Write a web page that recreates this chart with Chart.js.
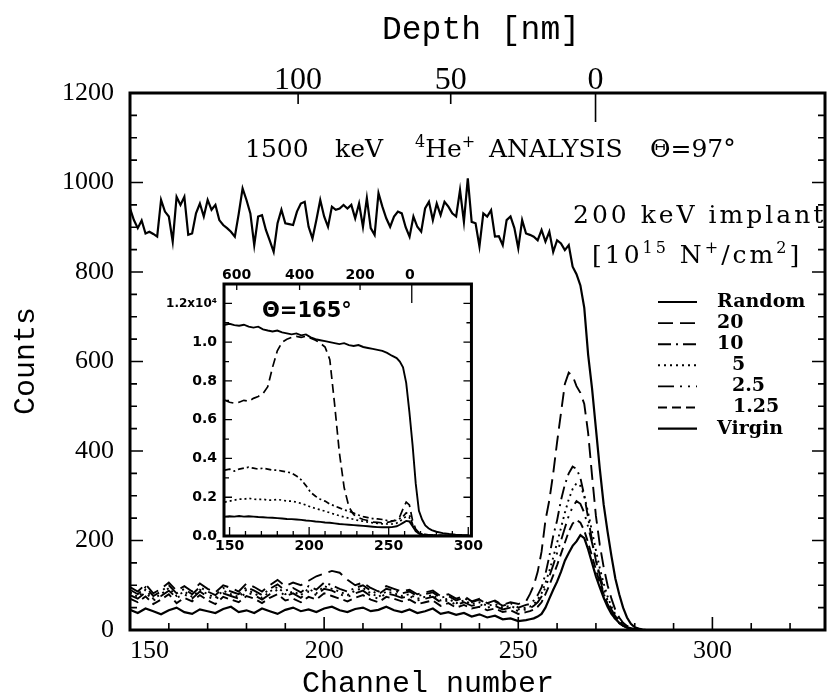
<!DOCTYPE html>
<html><head><meta charset="utf-8">
<script src="https://cdn.jsdelivr.net/npm/chart.js@4.4.0/dist/chart.umd.min.js"></script>
<style>
html,body{margin:0;padding:0;background:#fff;}
#wrap{position:relative;width:831px;height:700px;overflow:hidden;background:#fff;}
#main{position:absolute;left:0;top:0;}
#inset{position:absolute;left:140px;top:255px;}
</style></head><body>
<div id="wrap"><canvas id="main" width="831" height="700"></canvas><canvas id="inset" width="345" height="310"></canvas></div>
<script>
// ---------------- DATA (main panel, Θ=97°) ----------------
const seriesNames = ['Random', '20', '10', '5', '2.5', '1.25', 'Virgin'];

// Random spectrum: one value per channel starting at channel 150
const randomStartChannel = 150;
const randomCounts = [
  942,916,898,915,886,890,885,879,961,935,924,868,968,950,968,883,886,931,953,924,
  961,939,950,916,905,898,890,879,930,987,961,931,860,924,927,894,870,845,909,939,
  909,907,905,935,953,957,901,875,916,961,924,901,946,939,942,950,942,950,920,953,
  901,965,898,883,976,946,920,901,924,935,931,900,879,924,901,890,942,957,916,953,
  927,957,946,931,924,983,912,1009,912,909,857,931,924,938,879,880,860,916,924,898,
  853,916,886,883,879,871,894,868,890,845,871,864,849,860,812,795,770,720,615,540,
  450,360,280,220,165,115,80,50,28,14,6,3,1,0,0,0,0,0,0,0,0
];

// Aligned spectra share this channel list
const lowChannels = [
  150,152,154,156,158,160,162,164,166,168,170,172,174,176,178,180,182,184,186,188,
  190,192,194,196,198,200,202,204,206,208,210,212,214,216,218,220,222,224,226,228,
  230,232,234,236,238,240,242,244,246,248,250,252,
  253,254,255,256,257,258,259,260,261,262,263,264,265,266,267,268,269,270,271,272,
  273,274,275,276,277,278,279,280,281,282,283,284
];
const counts20 = [
  96,86,102,82,92,106,88,98,86,104,92,84,100,94,86,104,96,86,100,112,
  98,106,100,110,120,126,132,128,112,100,106,94,86,98,92,86,90,80,84,88,
  76,80,70,76,64,70,60,66,56,62,58,64,
  80,100,130,175,245,290,350,420,485,550,575,568,545,530,505,440,345,255,190,140,
  100,70,45,28,16,9,5,2,1,0,0,0
];
const counts10 = [
  90,80,96,76,86,100,82,92,80,96,86,78,94,86,80,96,88,78,92,102,
  88,94,84,98,90,106,100,92,86,94,100,88,80,92,88,82,86,76,80,84,
  72,76,66,72,62,68,58,64,54,60,50,56,
  58,66,78,95,125,165,210,245,290,325,350,365,360,340,300,250,200,155,115,82,
  56,38,24,15,9,5,3,1,0,0,0,0
];
const counts5 = [
  84,74,90,70,80,94,76,86,74,90,80,72,88,80,74,90,82,72,86,96,
  80,86,78,92,82,98,92,86,78,88,94,82,74,86,82,76,80,70,74,78,
  66,70,60,66,58,62,54,58,50,54,46,50,
  52,58,68,82,105,132,162,195,228,262,292,315,328,322,300,262,220,178,138,104,
  75,52,35,22,13,8,4,2,1,0,0,0
];
const counts2p5 = [
  78,70,84,66,76,88,72,80,70,86,74,68,82,76,70,84,78,68,80,90,
  76,82,72,86,78,92,88,80,74,82,88,76,70,82,78,72,76,66,70,74,
  62,66,56,62,54,58,50,54,46,50,42,46,
  48,54,62,75,95,120,145,172,200,228,255,275,288,282,262,230,195,158,122,92,
  66,46,31,20,12,7,4,2,1,0,0,0
];
const counts1p25 = [
  70,62,75,58,68,80,60,72,64,78,66,58,74,68,62,76,70,60,72,80,
  66,70,62,74,68,82,76,70,64,72,78,68,62,74,70,64,68,58,62,66,
  54,60,50,56,48,52,44,48,40,44,36,40,
  42,46,52,62,80,100,122,145,170,195,220,238,246,240,222,195,165,135,105,80,
  58,40,27,17,10,6,3,1,0,0,0,0
];
const countsVirgin = [
  45,38,48,42,35,44,50,40,36,46,42,38,47,52,40,44,38,48,42,36,
  45,50,42,46,40,48,52,44,40,47,50,42,45,52,44,40,46,38,42,48,
  36,40,34,38,30,35,28,32,24,26,20,22,
  24,26,30,36,50,70,90,108,130,155,172,188,198,212,205,180,150,120,95,72,
  52,36,25,16,10,6,3,1,0,0,0,0
];

// Main axis ticks
const xTickLabels = [150, 200, 250, 300];
const yTickLabels = [0, 200, 400, 600, 800, 1000, 1200];
const xMinorTicks = [160,170,180,190,200,210,220,230,240,250,260,270,280,290,300,310,320];
const yMinorTicks = [50,100,150,200,250,300,350,400,450,500,550,600,650,700,750,800,850,900,950,1000,1050,1100,1150];
const depthLabels = [100, 50, 0];          // nm
const depthChannels = [193.3, 232.6, 269.9]; // channel at which each depth falls

// ---------------- DATA (inset, Θ=165°, units of 10^4 counts) ----------------
const insetChannels = [
  147,150,153,156,159,162,165,168,171,174,177,180,183,186,189,192,195,198,201,204,
  207,210,213,216,219,222,225,228,231,234,237,240,243,246,249,252,255,
  257,259,261,263,265,267,269,271,273,275,277,280,284,288,292,296,300
];
const insetRandom = [
  1.090,1.095,1.088,1.085,1.090,1.080,1.075,1.080,1.066,1.060,
  1.055,1.060,1.050,1.045,1.040,1.045,1.035,1.040,1.025,1.015,
  1.010,1.005,1.000,0.995,0.990,0.995,0.985,0.980,0.985,0.975,
  0.970,0.965,0.960,0.955,0.945,0.930,0.918,
  0.900,0.870,0.790,0.640,0.470,0.270,0.130,0.085,0.055,0.040,
  0.030,0.022,0.015,0.010,0.007,0.005,0.004
];
const inset20 = [
  0.70,0.69,0.685,0.69,0.70,0.695,0.71,0.72,0.735,0.77,
  0.87,0.955,1.00,1.015,1.025,1.03,1.025,1.03,1.02,1.01,
  0.995,0.975,0.91,0.68,0.43,0.25,0.15,0.11,0.095,0.085,
  0.08,0.072,0.07,0.068,0.07,0.075,0.085,
  0.10,0.14,0.175,0.16,0.08,0.035,0.018,0.01,0.008,0.006,
  0.005,0.004,0.003,0.002,0.002,0.001,0.001
];
const inset10 = [
  0.34,0.345,0.335,0.345,0.35,0.355,0.35,0.345,0.35,0.345,
  0.34,0.34,0.335,0.33,0.325,0.31,0.29,0.26,0.225,0.205,
  0.19,0.18,0.165,0.155,0.145,0.135,0.128,0.118,0.108,0.10,
  0.095,0.09,0.088,0.085,0.08,0.078,0.08,
  0.09,0.10,0.12,0.11,0.06,0.03,0.015,0.01,0.007,0.005,
  0.004,0.003,0.002,0.002,0.001,0.001,0.001
];
const inset5 = [
  0.175,0.18,0.185,0.19,0.19,0.195,0.19,0.188,0.19,0.185,
  0.185,0.188,0.185,0.18,0.18,0.175,0.168,0.16,0.15,0.142,
  0.135,0.128,0.12,0.112,0.105,0.098,0.092,0.086,0.08,0.076,
  0.072,0.068,0.065,0.063,0.062,0.062,0.066,
  0.075,0.09,0.10,0.095,0.055,0.025,0.012,0.008,0.006,0.005,
  0.004,0.003,0.002,0.002,0.001,0.001,0.001
];
const insetVirgin = [
  0.10,0.102,0.10,0.103,0.10,0.102,0.10,0.098,0.097,0.095,
  0.094,0.092,0.09,0.088,0.087,0.085,0.083,0.08,0.078,0.075,
  0.073,0.07,0.068,0.065,0.062,0.06,0.058,0.056,0.054,0.052,
  0.05,0.048,0.046,0.045,0.045,0.046,0.05,
  0.058,0.068,0.078,0.075,0.05,0.025,0.012,0.007,0.005,0.004,
  0.003,0.002,0.002,0.001,0.001,0.001,0.001
];
const insetXTickLabels = [150, 200, 250, 300];
const insetYTickLabels = [0, 0.2, 0.4, 0.6, 0.8, 1.0, 1.2];
const insetXMinor = [150,160,170,180,190,200,210,220,230,240,250,260,270,280,290,300];
const insetYMinor = [0.1,0.2,0.3,0.4,0.5,0.6,0.7,0.8,0.9,1.0,1.1,1.2];
const insetDepthLabels = [600, 400, 200, 0];
const insetDepthChannels = [154.5, 194, 232, 264.5];

// ---------------- STYLES ----------------
const mainDash = [[], [15,7], [13,5,2,5], [2,4], [16,6,2,6,2,6], [9,5], []];
const mainWidth = [2.2, 1.9, 1.9, 1.9, 1.9, 1.9, 2.2];
const legendIndent = [0, 0, 0, 15, 15, 16, 0];

function pts(xs, ys) { return ys.map((v, i) => ({ x: xs[i], y: v })); }
const randomPts = randomCounts.map((v, i) => ({ x: randomStartChannel + i, y: v }));
const mainSeries = [randomPts, pts(lowChannels, counts20), pts(lowChannels, counts10),
  pts(lowChannels, counts5), pts(lowChannels, counts2p5), pts(lowChannels, counts1p25),
  pts(lowChannels, countsVirgin)];

function drawRuns(ctx, runs, x, y, size, family, weight, spacing) {
  let cx = x;
  runs.forEach(r => {
    const s = r.sup ? Math.round(size * 0.62) : size;
    ctx.font = (weight || 'normal') + ' ' + s + 'px ' + family;
    if ('letterSpacing' in ctx) ctx.letterSpacing = (spacing || 0) + 'px';
    const dy = r.sup ? -size * 0.42 : 0;
    ctx.fillText(r.t, cx, y + dy);
    cx += ctx.measureText(r.t).width;
  });
  if ('letterSpacing' in ctx) ctx.letterSpacing = '0px';
  return cx;
}

const SERIF = '"DejaVu Serif", serif';

const mainDecor = {
  id: 'mainDecor',
  afterDraw(chart) {
    const { ctx, chartArea: a, scales: { x, y } } = chart;
    ctx.save();
    ctx.strokeStyle = '#000'; ctx.fillStyle = '#000';
    ctx.lineWidth = 3;
    ctx.strokeRect(a.left, a.top, a.right - a.left, a.bottom - a.top);
    ctx.lineWidth = 1.6;
    ctx.beginPath();
    xMinorTicks.forEach(v => {
      const px = x.getPixelForValue(v); const L = v % 50 === 0 ? 13 : 7;
      ctx.moveTo(px, a.bottom); ctx.lineTo(px, a.bottom - L);
    });
    yMinorTicks.forEach(v => {
      const py = y.getPixelForValue(v); const L = v % 200 === 0 ? 13 : 7;
      ctx.moveTo(a.left, py); ctx.lineTo(a.left + L, py);
      ctx.moveTo(a.right, py); ctx.lineTo(a.right - L, py);
    });
    depthChannels.forEach((c, i) => {
      const px = x.getPixelForValue(c); const L = depthLabels[i] === 0 ? 29 : 11;
      ctx.moveTo(px, a.top); ctx.lineTo(px, a.top + L);
    });
    ctx.stroke();

    // top depth axis
    ctx.textAlign = 'center'; ctx.textBaseline = 'alphabetic';
    ctx.font = '32px "Liberation Serif", serif';
    depthChannels.forEach((c, i) => ctx.fillText(String(depthLabels[i]), x.getPixelForValue(c), 89));

    // axis titles
    ctx.textBaseline = 'middle';
    ctx.font = '33px "Liberation Mono", monospace';
    ctx.fillText('Depth [nm]', 481, 30);
    ctx.font = '30px "Liberation Mono", monospace';
    ctx.fillText('Channel number', 428, 684);
    ctx.save(); ctx.translate(26, 361); ctx.rotate(-Math.PI / 2);
    ctx.fillText('Counts', 0, 0); ctx.restore();

    // annotations
    ctx.textAlign = 'left'; ctx.textBaseline = 'alphabetic';
    const base = 157;
    drawRuns(ctx, [{ t: '1500' }], 245, base, 25, SERIF);
    drawRuns(ctx, [{ t: 'keV' }], 335, base, 25, SERIF);
    drawRuns(ctx, [{ t: '4', sup: true }, { t: 'He' }, { t: '+', sup: true }], 415, base, 25, SERIF);
    drawRuns(ctx, [{ t: 'ANALYSIS' }], 489, base, 25, SERIF);
    drawRuns(ctx, [{ t: 'Θ=97°' }], 650, base, 25, SERIF);
    drawRuns(ctx, [{ t: '200 keV implant' }], 573, 223, 25, SERIF, 'normal', 3);
    drawRuns(ctx, [{ t: '[10' }, { t: '15', sup: true }, { t: ' N' }, { t: '+', sup: true }, { t: '/cm' }, { t: '2', sup: true }, { t: ']' }], 592, 263, 25, SERIF, 'normal', 3);

    // legend
    chart.data.datasets.forEach((ds, i) => {
      const yy = 302 + i * 21.1;
      ctx.setLineDash(ds.borderDash || []);
      ctx.lineWidth = ds.borderWidth;
      ctx.beginPath(); ctx.moveTo(658, yy); ctx.lineTo(697, yy); ctx.stroke();
      ctx.setLineDash([]);
      ctx.font = 'bold 19px ' + SERIF;
      ctx.textBaseline = 'middle';
      ctx.fillText(ds.label, 717 + legendIndent[i], yy);
    });
    ctx.restore();
  }
};

new Chart(document.getElementById('main'), {
  type: 'line',
  data: {
    datasets: mainSeries.map((d, i) => ({
      label: seriesNames[i], data: d, borderColor: '#000', backgroundColor: '#000',
      borderWidth: mainWidth[i], borderDash: mainDash[i], pointRadius: 0, tension: 0, fill: false
    }))
  },
  options: {
    responsive: false, animation: false, devicePixelRatio: 1,
    layout: { padding: { left: 0, right: 2, top: 93, bottom: 0 } },
    plugins: { legend: { display: false }, tooltip: { enabled: false } },
    scales: {
      x: {
        type: 'linear', min: 150, max: 329,
        afterBuildTicks: s => { s.ticks = xTickLabels.concat([329]).map(v => ({ value: v })); },
        afterFit: s => { s.height = 70; },
        grid: { display: false, drawTicks: false }, border: { display: false },
        ticks: { color: '#000', padding: 6, maxRotation: 0, autoSkip: false, align: 'inner',
          font: { family: '"Liberation Serif", serif', size: 26 },
          callback: v => (xTickLabels.includes(v) ? String(v) : '') }
      },
      y: {
        type: 'linear', min: 0, max: 1200,
        afterBuildTicks: s => { s.ticks = yTickLabels.map(v => ({ value: v })); },
        afterFit: s => { s.width = 130; },
        grid: { display: false, drawTicks: false }, border: { display: false },
        ticks: { color: '#000', padding: 16, autoSkip: false,
          font: { family: '"Liberation Serif", serif', size: 26 },
          callback: v => String(v) }
      }
    }
  },
  plugins: [mainDecor]
});

// ---------------- INSET ----------------
const insetSeries = [insetRandom, inset20, inset10, inset5, insetVirgin];
const insetDash = [[], [9,5], [6,3,2,3], [2,3], []];
const insetWidth = [1.9, 1.7, 1.7, 1.7, 1.9];
const SANSB = '"DejaVu Sans", sans-serif';

const insetDecor = {
  id: 'insetDecor',
  afterDraw(chart) {
    const { ctx, chartArea: a, scales: { x, y } } = chart;
    ctx.save();
    ctx.strokeStyle = '#000'; ctx.fillStyle = '#000';
    ctx.lineWidth = 3;
    ctx.strokeRect(a.left, a.top, a.right - a.left, a.bottom - a.top);
    ctx.lineWidth = 1.3;
    ctx.beginPath();
    insetXMinor.forEach(v => {
      const px = x.getPixelForValue(v); const L = v % 50 === 0 ? 9 : 5;
      ctx.moveTo(px, a.bottom); ctx.lineTo(px, a.bottom - L);
    });
    insetYMinor.forEach(v => {
      const py = y.getPixelForValue(v); const L = Math.round(v * 10) % 2 === 0 ? 8 : 5;
      ctx.moveTo(a.left, py); ctx.lineTo(a.left + L, py);
      ctx.moveTo(a.right, py); ctx.lineTo(a.right - L, py);
    });
    insetDepthChannels.forEach((c, i) => {
      const px = x.getPixelForValue(c); const L = insetDepthLabels[i] === 0 ? 19 : 6;
      ctx.moveTo(px, a.top); ctx.lineTo(px, a.top + L);
    });
    ctx.stroke();
    ctx.font = 'bold 14px ' + SANSB;
    ctx.textAlign = 'center'; ctx.textBaseline = 'middle';
    insetDepthChannels.forEach((c, i) => ctx.fillText(String(insetDepthLabels[i]), x.getPixelForValue(c) - (insetDepthLabels[i] === 0 ? 2 : 0), 20));
    ctx.textAlign = 'left'; ctx.textBaseline = 'alphabetic';
    ctx.font = 'bold 21px ' + SANSB;
    ctx.fillText('Θ=165°', 122, 62);
    ctx.restore();
  }
};

new Chart(document.getElementById('inset'), {
  type: 'line',
  data: {
    datasets: insetSeries.map((d, i) => ({
      data: pts(insetChannels, d), borderColor: '#000', borderWidth: insetWidth[i],
      borderDash: insetDash[i], pointRadius: 0, tension: 0, fill: false
    }))
  },
  options: {
    responsive: false, animation: false, devicePixelRatio: 1,
    layout: { padding: { left: 0, right: 10, top: 29, bottom: 0 } },
    plugins: { legend: { display: false }, tooltip: { enabled: false } },
    scales: {
      x: {
        type: 'linear', min: 146.5, max: 302,
        afterBuildTicks: s => { s.ticks = insetXTickLabels.map(v => ({ value: v })); },
        afterFit: s => { s.height = 29; },
        grid: { display: false, drawTicks: false }, border: { display: false },
        ticks: { color: '#000', padding: 2, maxRotation: 0, autoSkip: false,
          font: { family: SANSB, size: 14, weight: 'bold' } }
      },
      y: {
        type: 'linear', min: 0, max: 1.3,
        afterBuildTicks: s => { s.ticks = insetYTickLabels.map(v => ({ value: v })); },
        afterFit: s => { s.width = 84; },
        grid: { display: false, drawTicks: false }, border: { display: false },
        ticks: { color: '#000', padding: 7, autoSkip: false,
          font: c => (c.tick && c.tick.value === 1.2 ? { family: SANSB, size: 12, weight: 'bold' } : { family: SANSB, size: 14, weight: 'bold' }),
          callback: v => (v === 1.2 ? '1.2x10⁴' : Number(v).toFixed(1)) }
      }
    }
  },
  plugins: [insetDecor]
});
</script></body></html>
